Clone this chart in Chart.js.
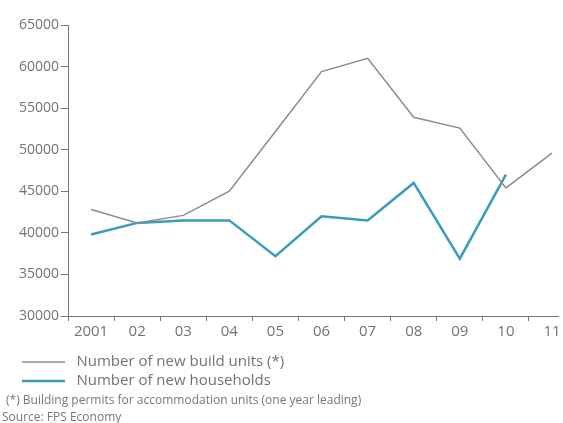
<!DOCTYPE html>
<html>
<head>
<meta charset="utf-8">
<script src="https://cdn.jsdelivr.net/npm/chart.js@4/dist/chart.umd.min.js"></script>
<style>
  html, body { margin: 0; padding: 0; background: #fff; }
  #wrap { position: relative; width: 563px; height: 423px; }
  canvas { position: absolute; left: 0; top: 0; }
  .note { position: absolute; font-family: "Open Sans", sans-serif; font-size: 12px; color: #777; white-space: nowrap; line-height: 14px; }
</style>
</head>
<body>
<div id="wrap">
  <canvas id="c" width="563" height="423"></canvas>
  <div class="note" id="fn" style="left:6px; top:393px;">(*) Building permits for accommodation units (one year leading)</div>
  <div class="note" id="src" style="left:2px; top:410px;">Source: FPS Economy</div>
</div>
<script>
// ---- data ----
const years = [2001, 2002, 2003, 2004, 2005, 2006, 2007, 2008, 2009, 2010, 2011];
const xTickLabels = ['2001', '02', '03', '04', '05', '06', '07', '08', '09', '10', '11'];
const newBuildUnits = [42800, 41200, 42100, 45000, 52200, 59400, 61000, 53900, 52600, 45400, 49600];
const newHouseholds = [39800, 41200, 41500, 41500, 37200, 42000, 41500, 46000, 36900, 47000, null];
const yTickValues = [30000, 35000, 40000, 45000, 50000, 55000, 60000, 65000];
const seriesNames = ['Number of new build units (*)', 'Number of new households'];

const textColor = '#737373';
const axisColor = '#777';

function toPoints(vals) {
  return years.map((yr, i) => ({ x: yr, y: vals[i] }));
}

// tick positions: labels on years, tick marks between years
const xTickPositions = [];
years.forEach(y => { xTickPositions.push(y - 0.5); xTickPositions.push(y); });

new Chart(document.getElementById('c'), {
  type: 'line',
  data: {
    datasets: [
      {
        label: seriesNames[0],
        data: toPoints(newBuildUnits),
        borderColor: '#8c8c8c',
        backgroundColor: '#8c8c8c',
        borderWidth: 1.5,
        pointRadius: 0,
        tension: 0
      },
      {
        label: seriesNames[1],
        data: toPoints(newHouseholds),
        borderColor: '#3a9cbd',
        backgroundColor: '#3a9cbd',
        borderWidth: 2.5,
        pointRadius: 0,
        tension: 0
      }
    ]
  },
  options: {
    responsive: false,
    animation: false,
    layout: { padding: { left: 18, right: 5, top: 25, bottom: 24.5 } },
    scales: {
      x: {
        type: 'linear',
        min: 2000.5,
        max: 2011.13,
        afterBuildTicks: (scale) => {
          scale.ticks = xTickPositions.filter(v => v >= scale.min && v <= scale.max).map(v => ({ value: v }));
        },
        afterFit: (scale) => { scale.height = 34.5; },
        border: { display: true, color: axisColor, width: 1 },
        grid: {
          display: true,
          drawOnChartArea: false,
          drawTicks: true,
          tickLength: 5,
          tickColor: (ctx) => (ctx.tick && Number.isInteger(ctx.tick.value)) ? 'rgba(0,0,0,0)' : axisColor
        },
        ticks: {
          autoSkip: false,
          maxRotation: 0,
          padding: 2,
          color: textColor,
          font: { family: 'Open Sans', size: 15 },
          callback: (value) => {
            const i = years.indexOf(value);
            return i >= 0 ? xTickLabels[i] : '';
          }
        }
      },
      y: {
        min: 30000,
        max: 65000,
        afterBuildTicks: (scale) => {
          scale.ticks = yTickValues.map(v => ({ value: v }));
        },
        afterFit: (scale) => { scale.width = 50; },
        border: { display: true, color: axisColor, width: 1 },
        grid: {
          display: true,
          drawOnChartArea: false,
          drawTicks: true,
          tickLength: 7,
          tickColor: axisColor
        },
        ticks: {
          padding: 2,
          color: textColor,
          font: { family: 'Open Sans', size: 14 },
          callback: (value) => String(value)
        }
      }
    },
    plugins: {
      tooltip: { enabled: false },
      legend: {
        display: true,
        position: 'bottom',
        align: 'start',
        labels: {
          boxWidth: 43,
          boxHeight: 0,
          padding: 4,
          color: textColor,
          font: { family: 'Open Sans', size: 15 },
          generateLabels: (chart) => {
            const items = Chart.defaults.plugins.legend.labels.generateLabels(chart);
            // trailing spaces keep each entry on its own row
            return items.map(it => Object.assign(it, { text: ' ' + it.text + '\u2003'.repeat(8) }));
          }
        }
      }
    }
  }
});
</script>
</body>
</html>
